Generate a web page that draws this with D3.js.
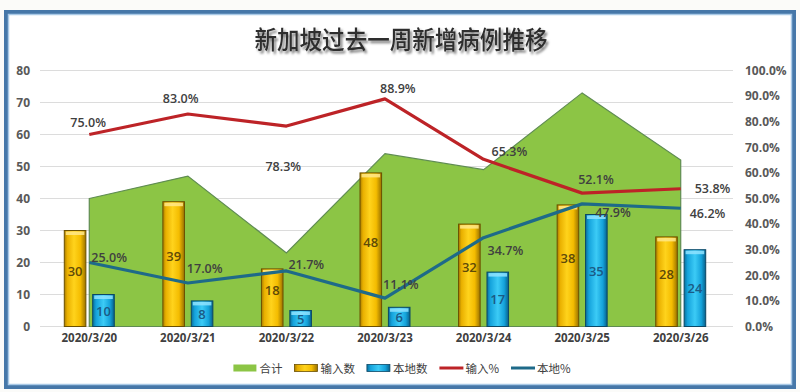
<!DOCTYPE html>
<html><head><meta charset="utf-8">
<script src="https://cdn.jsdelivr.net/npm/d3@7"></script>
<style>body{margin:0;background:#fff}svg{display:block}</style>
</head><body>
<svg id="c" width="800" height="392"></svg>
<script>
// ---------- data ----------
const title = "新加坡过去一周新增病例推移";
const categories = ["2020/3/20","2020/3/21","2020/3/22","2020/3/23","2020/3/24","2020/3/25","2020/3/26"];
const importCases = [30, 39, 18, 48, 32, 38, 28];
const localCases  = [10, 8, 5, 6, 17, 35, 24];
const totalCases  = [40, 47, 23, 54, 49, 73, 52];
const importPct   = [75.0, 83.0, 78.3, 88.9, 65.3, 52.1, 53.8];
const localPct    = [25.0, 17.0, 21.7, 11.1, 34.7, 47.9, 46.2];
const leftTicks   = [0, 10, 20, 30, 40, 50, 60, 70, 80];
const rightTicks  = [0, 10, 20, 30, 40, 50, 60, 70, 80, 90, 100];
const seriesNames = ["合计", "输入数", "本地数", "输入%", "本地%"];

// ---------- layout (label nudges, px) ----------
const importPctLabelNudge = [[-19,-12],[-25,-16],[-21,40],[-5,-10],[8,-8],[-4,-14],[14,0]];
const localPctLabelNudge  = [[2,-5],[-1,-14],[2,-6],[-2,-14],[4,13],[13,9],[9,5]];

const svg = d3.select("#c");
const defs = svg.append("defs");

// frame
svg.append("rect").attr("x",0).attr("y",0).attr("width",800).attr("height",392).attr("fill","#fbfbf9");
svg.append("rect").attr("x",6).attr("y",12).attr("width",788).attr("height",375)
  .attr("fill","#ffffff").attr("stroke","#4677a8").attr("stroke-width",4);
svg.append("rect").attr("x",8.5).attr("y",14.5).attr("width",783).attr("height",370)
  .attr("fill","none").attr("stroke","#a9c9e6").attr("stroke-width",1.5);

// title with shadow
const f = defs.append("filter").attr("id","sh").attr("x","-10%").attr("y","-30%").attr("width","120%").attr("height","160%");
f.append("feDropShadow").attr("dx",2).attr("dy",2.5).attr("stdDeviation",1.2).attr("flood-color","#000").attr("flood-opacity",0.5);
svg.append("text").attr("x",401).attr("y",49).attr("text-anchor","middle")
  .attr("font-family","'Noto Sans CJK SC'").attr("font-size",25).attr("font-weight",500)
  .attr("textLength",293).attr("lengthAdjust","spacingAndGlyphs")
  .attr("fill","#2e2e2e").attr("filter","url(#sh)").text(title);

// scales
const x = d3.scaleBand().domain(categories).range([40,730]);
const cx = d => x(d) + x.bandwidth()/2;
const y = d3.scaleLinear().domain([0,80]).range([326.5,70.5]);
const yr = d3.scaleLinear().domain([0,100]).range([326.5,70.5]);
const xs = d3.scaleBand().domain(["in","loc"]).range([-25,25]).paddingInner(0.24);

// grid
svg.append("g").selectAll("line").data(leftTicks).join("line")
  .attr("x1",40).attr("x2",733).attr("y1",d=>y(d)).attr("y2",d=>y(d))
  .attr("stroke","#dcdcdc").attr("stroke-width",1);

// axes
const axL = svg.append("g").attr("transform","translate(30,0)")
  .call(d3.axisLeft(y).tickValues(leftTicks).tickSize(0).tickPadding(0));
const axR = svg.append("g").attr("transform","translate(745,0)")
  .call(d3.axisRight(yr).tickValues(rightTicks).tickSize(0).tickPadding(0).tickFormat(d=>d.toFixed(1)+"%"));
const axB = svg.append("g").attr("transform","translate(0,334)")
  .call(d3.axisBottom(x).tickSize(0).tickPadding(0));
[axL,axR,axB].forEach(a=>{
  a.select(".domain").remove();
  a.selectAll("text").attr("font-family","'Open Sans'").attr("font-weight",700)
   .attr("font-size",12).attr("fill","#595959");
});
axB.selectAll("text").attr("fill","#404040").attr("font-size",11.5);

// area (total)
const pts = categories.map((c,i)=>({c, v: totalCases[i]}));
svg.append("path").datum(pts)
  .attr("d", d3.area().x(d=>cx(d.c)).y0(y(0)).y1(d=>y(d.v)))
  .attr("fill","#8cc545").attr("stroke","#5f8c52").attr("stroke-width",1.2);

// gradients
function grad(id, stops){
  const g = defs.append("linearGradient").attr("id",id).attr("x1","0").attr("x2","1").attr("y1","0").attr("y2","0");
  stops.forEach(s=>g.append("stop").attr("offset",s[0]).attr("stop-color",s[1]));
}
grad("gy",[["0%","#a97d00"],["14%","#e9b000"],["45%","#ffd31c"],["75%","#f4bc00"],["100%","#9a7200"]]);
grad("gb",[["0%","#0a6f9c"],["16%","#15a3dc"],["50%","#3ccbf6"],["80%","#14a2da"],["100%","#08608a"]]);

function bars(vals, key, fillId, capColor, stroke, textColor){
  const g = svg.append("g");
  const d = categories.map((c,i)=>({c, v: vals[i]}));
  const bx = d => cx(d.c) + xs(key);
  g.selectAll("rect.b").data(d).join("rect").attr("class","b")
    .attr("x",bx).attr("y",d=>y(d.v)).attr("width",xs.bandwidth()).attr("height",d=>y(0)-y(d.v))
    .attr("fill",`url(#${fillId})`).attr("stroke",stroke).attr("stroke-width",1);
  g.selectAll("rect.cap").data(d).join("rect").attr("class","cap")
    .attr("x",d=>bx(d)+1.5).attr("y",d=>y(d.v)+1).attr("width",xs.bandwidth()-3).attr("height",3.5)
    .attr("fill",capColor).attr("opacity",0.85);
  g.selectAll("text").data(d).join("text")
    .attr("x",d=>bx(d)+xs.bandwidth()/2).attr("y",d=>(y(d.v)+y(0))/2 - (key==="in"?8:0))
    .attr("text-anchor","middle").attr("dominant-baseline","central")
    .attr("font-family","'Open Sans'").attr("font-weight",600).attr("font-size",13)
    .attr("fill",textColor).text(d=>d.v);
}
bars(importCases,"in","gy","#ffe88a","#6b5000","#5e4a08");
bars(localCases,"loc","gb","#8fe3ff","#0b4866","#1b5a85");

// lines
function line(vals, color, nudges){
  const d = categories.map((c,i)=>({c, v: vals[i], n: nudges[i]}));
  svg.append("path").datum(d)
    .attr("d", d3.line().x(p=>cx(p.c)).y(p=>yr(p.v)))
    .attr("fill","none").attr("stroke",color).attr("stroke-width",3.2).attr("stroke-linejoin","round");
  svg.append("g").selectAll("text").data(d).join("text")
    .attr("x",p=>cx(p.c)+p.n[0]).attr("y",p=>yr(p.v)+p.n[1])
    .attr("dominant-baseline","central")
    .attr("font-family","'Open Sans'").attr("font-weight",600).attr("font-size",12.5)
    .attr("fill","#404040").text(p=>p.v.toFixed(1)+"%");
}
line(importPct,"#bd2327",importPctLabelNudge);
line(localPct,"#1e6a89",localPctLabelNudge);

// legend
const legendStyles = [
  {type:"rect", fill:"#8cc545", stroke:"none"},
  {type:"rect", fill:"url(#gy)", stroke:"#6b5000"},
  {type:"rect", fill:"url(#gb)", stroke:"#0b4866"},
  {type:"line", stroke:"#bd2327"},
  {type:"line", stroke:"#1e6a89"}
];
const lg = svg.append("g");
let lx = 0;
seriesNames.forEach((name,i)=>{
  const st = legendStyles[i];
  const g = lg.append("g").attr("transform",`translate(${lx},0)`);
  if(st.type==="rect"){
    g.append("rect").attr("x",0).attr("y",-3.5).attr("width",23).attr("height",7)
      .attr("fill",st.fill).attr("stroke",st.stroke).attr("stroke-width",0.8);
  } else {
    g.append("line").attr("x1",0).attr("x2",24).attr("y1",0).attr("y2",0)
      .attr("stroke",st.stroke).attr("stroke-width",3);
  }
  const t = g.append("text").attr("x",26).attr("y",0).attr("dominant-baseline","central")
    .attr("font-family","'Noto Sans CJK SC'").attr("font-size",11.5).attr("fill","#404040").text(name);
  lx += 26 + t.node().getComputedTextLength() + 12;
});
const lw = lx - 12;
lg.attr("transform",`translate(${402 - lw/2},368)`);
</script>
</body></html>
